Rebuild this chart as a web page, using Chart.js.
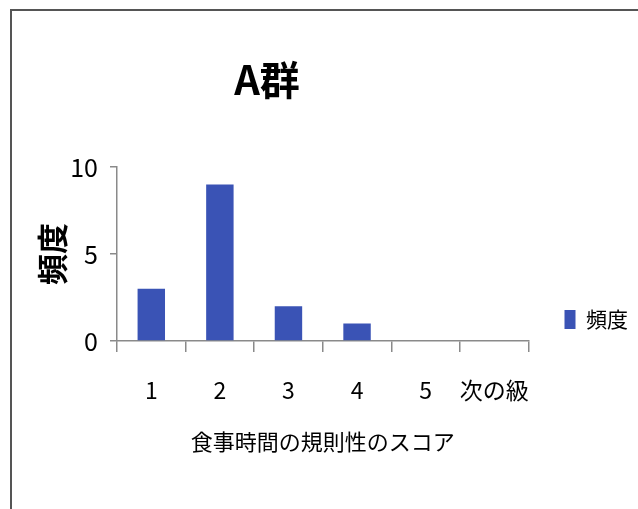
<!DOCTYPE html>
<html>
<head>
<meta charset="utf-8">
<script src="https://cdn.jsdelivr.net/npm/chart.js@4/dist/chart.umd.min.js"></script>
<style>
  html, body { margin: 0; padding: 0; background: #ffffff; }
  #wrap { position: relative; width: 638px; height: 509px; overflow: hidden; }
  #frame { position: absolute; left: 10px; top: 9px; width: 700px; height: 600px;
           border-left: 2px solid #555; border-top: 2px solid #555; pointer-events: none; }
  canvas { display: block; }
</style>
</head>
<body>
<div id="wrap">
  <canvas id="c" width="638" height="509"></canvas>
  <div id="frame"></div>
</div>
<script>
// ---- data ----
const categories = ['1', '2', '3', '4', '5', '次の級'];
const frequencies = [3, 9, 2, 1, 0, 0];
const seriesName = '頻度';
const chartTitle = 'A群';
const xTitle = '食事時間の規則性のスコア';
const yTitle = '頻度';

const FONT = '"Noto Sans CJK JP", "Noto Sans", sans-serif';
const BLUE = '#3a53b5';
const AXIS = '#8a8a8a';

const titleShift = {
  id: 'titleShift',
  afterLayout(chart) {
    const t = chart.titleBlock;
    if (t) { t.left = 0; t.right = 534; }
  }
};

new Chart(document.getElementById('c'), {
  type: 'bar',
  data: {
    labels: categories,
    datasets: [{
      label: seriesName,
      data: frequencies,
      backgroundColor: BLUE,
      borderWidth: 0,
      barPercentage: 0.4,
      categoryPercentage: 1.0
    }]
  },
  plugins: [titleShift],
  options: {
    responsive: false,
    animation: false,
    layout: { padding: { left: 0, right: 0, top: 0, bottom: 0 } },
    plugins: {
      title: {
        display: true,
        text: chartTitle,
        color: '#000',
        font: { family: FONT, size: 40, weight: 'bold' },
        padding: { top: 56, bottom: 63 }
      },
      legend: {
        position: 'right',
        fullSize: false,
        align: 'start',
        title: { display: true, text: '', font: { size: 10 }, padding: { top: 94, bottom: 0 } },
        labels: {
          color: '#000',
          font: { family: FONT, size: 21 },
          boxWidth: 11,
          boxHeight: 19,
          padding: 36
        }
      },
      tooltip: { enabled: false }
    },
    scales: {
      x: {
        offset: true,
        grid: { display: true, offset: true, drawOnChartArea: false, drawTicks: true, tickLength: 11, color: AXIS, lineWidth: 1.5 },
        border: { display: true, color: AXIS, width: 1.5 },
        ticks: { color: '#000', font: { family: FONT, size: 23 }, padding: 24, maxRotation: 0, autoSkip: false },
        title: { display: true, text: xTitle, color: '#000', font: { family: FONT, size: 22 }, padding: { top: 0, bottom: 54 } },
        afterFit(scale) { scale.height = 168; }
      },
      y: {
        min: 0,
        max: 10,
        ticks: { stepSize: 5, color: '#000', font: { family: FONT, size: 25 }, padding: 12 },
        grid: { display: true, drawOnChartArea: false, drawTicks: true, tickLength: 7, color: AXIS, lineWidth: 1.5 },
        border: { display: true, color: AXIS, width: 1.5 },
        title: { display: true, text: yTitle, color: '#000', font: { family: FONT, size: 31, weight: 'bold' }, padding: { top: 34, bottom: 0 } },
        afterFit(scale) { scale.width = 117; }
      }
    }
  }
});
</script>
</body>
</html>
